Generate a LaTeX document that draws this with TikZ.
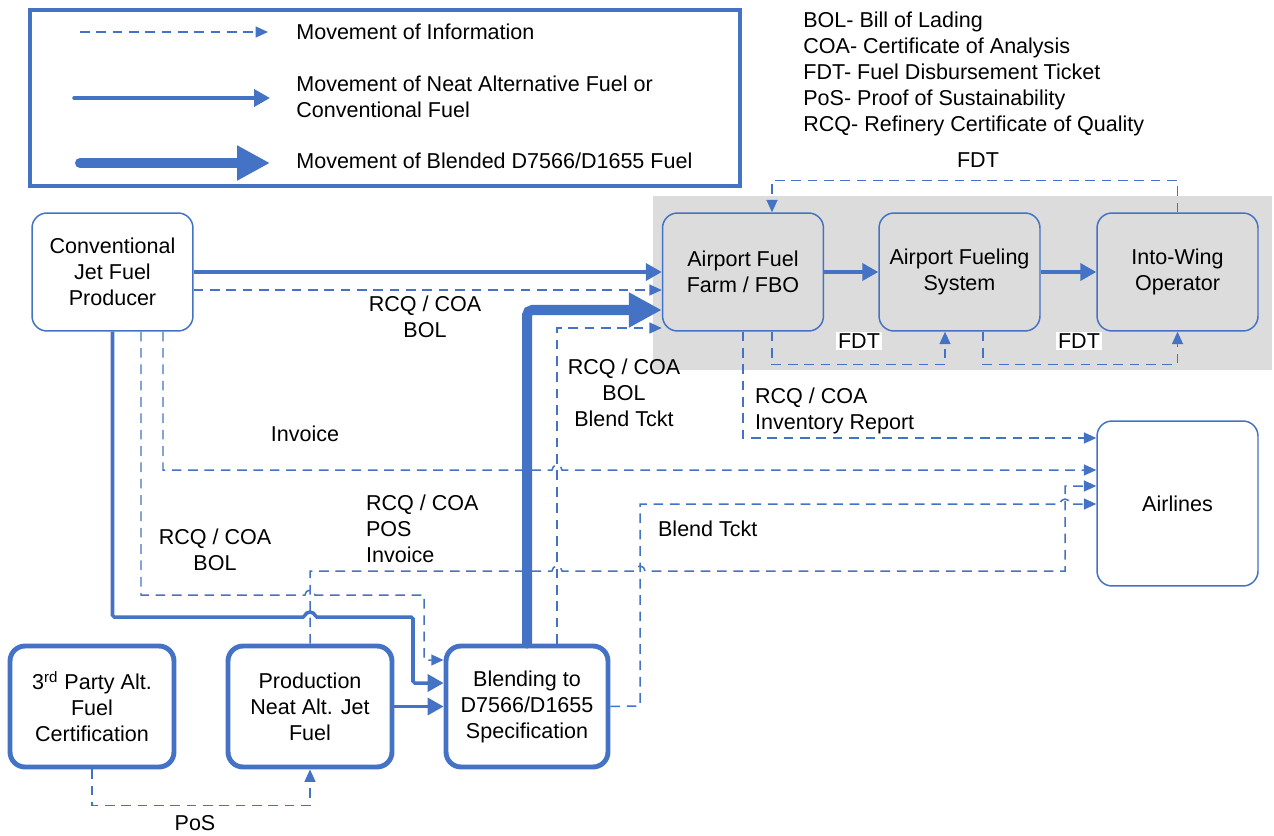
\documentclass[tikz,border=0pt]{standalone}
\usepackage{fontspec}
\setmainfont{Liberation Sans}
\usetikzlibrary{arrows.meta,calc,positioning}
\definecolor{flowBlue}{HTML}{4472C4}
\definecolor{zoneGray}{HTML}{DCDCDC}
\tikzset{
  box/.style={draw=flowBlue, line width=0.85pt, rounded corners=0.3cm, fill=white,
    align=center, minimum width=3.22cm, minimum height=2.36cm, inner sep=2pt},
  boldbox/.style={box, line width=2.8pt},
  info/.style={draw=flowBlue, line width=0.85pt, dash pattern=on 5.5pt off 3.8pt,
    -{Triangle[length=7pt,width=6.2pt]}},
  neat/.style={draw=flowBlue, line width=2pt, rounded corners=1pt,
    -{Triangle[length=9pt,width=9.6pt]}},
  blend/.style={draw=flowBlue, line width=5.7pt, rounded corners=3pt,
    -{Triangle[length=18.7pt,width=18.7pt]}},
  tag/.style={align=center, inner sep=1pt},
}
\begin{document}
\begin{tikzpicture}[x=0.02cm, y=-0.02cm, font=\fontsize{12.25}{14.8}\selectfont]
  \useasboundingbox (0,0) rectangle (1274,835);

  % legend
  \draw[flowBlue, line width=2.3pt] (30,10) rectangle (740,186);
  \coordinate (keyA) at (80,32);
  \coordinate (keyB) at (74,98);
  \coordinate (keyC) at (80,163);
  \draw[info] (keyA) -- (268,32);
  \draw[neat, line cap=round] (keyB) -- (270,98);
  \draw[blend, line cap=round] (keyC) -- (270,163);
  \node[anchor=west, inner sep=0pt] (keyInfo) at (296,32) {Movement of Information};
  \node[anchor=west, inner sep=0pt, align=left] (keyNeat) at (296,97) {Movement of Neat Alternative Fuel or\\Conventional Fuel};
  \node[anchor=west, inner sep=0pt] (keyBlend) at (296,161) {Movement of Blended D7566/D1655 Fuel};
  \node[anchor=north west, inner sep=0pt, align=left] (abbrev) at (803,12)
    {BOL- Bill of Lading\\COA- Certificate of Analysis\\FDT- Fuel Disbursement Ticket\\PoS- Proof of Sustainability\\RCQ- Refinery Certificate of Quality};

  % airport zone
  \fill[zoneGray] (653,196) rectangle (1272,370);

  % nodes
  \node[box] (conv) at (112.5,272) {Conventional\\Jet Fuel\\Producer};
  \node[box, fill=zoneGray] (farm) at (743,272) {Airport Fuel\\Farm / FBO};
  \node[box, fill=zoneGray] (fueling) at (959.5,272) {Airport Fueling\\System};
  \node[box, fill=zoneGray] (wing) at (1177.5,272) {Into-Wing\\Operator};
  \node[box, minimum height=3.3cm] (airlines) at (1177.5,503.5) {Airlines};
  \node[boldbox, minimum width=3.28cm, minimum height=2.42cm] (third) at (92,706.5) {3\textsuperscript{rd} Party Alt.\\Fuel\\Certification};
  \node[boldbox, minimum width=3.28cm, minimum height=2.42cm] (production) at (310,706.5) {Production\\Neat Alt. Jet\\Fuel};
  \node[boldbox, minimum width=3.24cm, minimum height=2.42cm] (blending) at (527,706.5) {Blending to\\D7566/D1655\\Specification};

  % information
  \draw[info] ($(conv.east)+(0,18)$) -- (0,290 -| farm.west);
  \node[tag] (lblConv) at (425,317) {RCQ / COA\\BOL};
  \draw[info] ($(blending.north)+(30,0)$) |- (0,328 -| farm.west);
  \node[tag] (lblBlendFarm) at (624,393) {RCQ / COA\\BOL\\Blend Tckt};
  \draw[info] ($(conv.south)+(50.5,0)$) -- (163,470) -- (552,470)
    arc[start angle=180, end angle=0, radius=0.1cm] -- (0,470 -| airlines.west);
  \node[tag] (lblInvoice) at (305,434) {Invoice};
  \draw[info] ($(conv.south)+(28.5,0)$) -- (141,595) -- (305,595)
    arc[start angle=180, end angle=0, radius=0.1cm] -- (424,595) -- (424,660) -- (0,660 -| blending.west);
  \node[tag] (lblConvBlend) at (215,550) {RCQ / COA\\BOL};
  \draw[info] (production.north) -- (310,571) -- (552,571)
    arc[start angle=180, end angle=0, radius=0.1cm] -- (635,571)
    arc[start angle=180, end angle=0, radius=0.1cm] -- (1065,571) -- (1065,486) -- (0,486 -| airlines.west);
  \node[tag, anchor=west, align=left] (lblProd) at (364,529) {RCQ / COA\\POS\\Invoice};
  \draw[info] (blending.east) -- (640,706) -- (640,504) -- (1060,504)
    arc[start angle=180, end angle=0, radius=0.1cm] -- (0,504 -| airlines.west);
  \node[tag, anchor=west] (lblTckt) at (656,529) {Blend Tckt};
  \draw[info] (farm.south) -- (743,438) -- (0,438 -| airlines.west);
  \node[tag, anchor=west, align=left] (lblFarm) at (753,411) {RCQ / COA\\Inventory Report};
  \draw[info] ($(farm.south)+(29,0)$) -- ++(0,33) -| ($(fueling.south)+(-14.5,0)$);
  \node[tag, fill=white] (lblFdtA) at (859,341) {FDT};
  \draw[info] ($(fueling.south)+(23.5,0)$) -- ++(0,33) -| (wing.south);
  \node[tag, fill=white] (lblFdtB) at (1079,341) {FDT};
  \draw[info] (wing.north) -- ++(0,-32) -| ($(farm.north)+(29,0)$);
  \node[tag] (lblFdtC) at (978,160) {FDT};
  \draw[info] (third.south) -- ++(0,36) -| (production.south);
  \node[tag] (lblPos) at (195,823) {PoS};

  % fuel
  \draw[neat] (conv.east) -- (farm.west);
  \draw[neat] (conv.south) -- (112.5,617) -- (305,617)
    arc[start angle=180, end angle=0, radius=0.1cm] -- (413,617) -- (413,683) -- (0,683 -| blending.west);
  \draw[neat] (production.east) -- (blending.west);
  \draw[neat] (farm.east) -- (fueling.west);
  \draw[neat] (fueling.east) -- (wing.west);
  \draw[blend, line cap=round] (blending.north) |- (0,310 -| farm.west);
\end{tikzpicture}
\end{document}
